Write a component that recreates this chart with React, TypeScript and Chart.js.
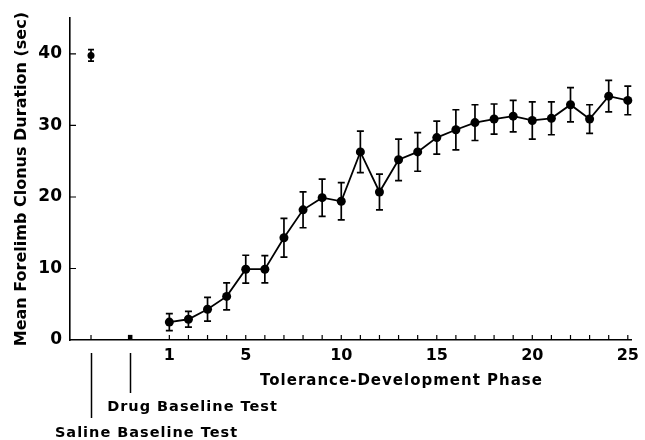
import React, { useEffect, useRef } from "react";
import { Chart, registerables } from "chart.js";

Chart.register(...registerables);

// Tolerance-development phase sessions
const phaseSessions = [1, 2, 3, 4, 5, 6, 7, 8, 9, 10, 11, 12, 13, 14, 15, 16, 17, 18, 19, 20, 21, 22, 23, 24, 25];
const phaseMeans = [2.5, 2.9, 4.3, 6.1, 9.9, 9.9, 14.3, 18.2, 19.9, 19.4, 26.3, 20.7, 25.2, 26.3, 28.3, 29.4, 30.4, 30.9, 31.3, 30.7, 31.0, 32.9, 30.9, 34.1, 33.5];
const phaseErrors = [1.2, 1.1, 1.65, 1.9, 1.95, 1.9, 2.7, 2.5, 2.6, 2.6, 2.9, 2.5, 2.9, 2.7, 2.3, 2.8, 2.5, 2.1, 2.2, 2.6, 2.3, 2.4, 2.0, 2.2, 2.0];

// Baseline tests
const baselineNames = ["Saline Baseline Test", "Drug Baseline Test"];
const baselineX = [-3.1, -1.05];
const baselineMeans = [39.8, 0.4];
const baselineErrors = [0.8, 0.2];

// Axis ticks
const xTickLabels = [1, 5, 10, 15, 20, 25];
const yTickValues = [0, 10, 20, 30, 40];

const FONT = "'DejaVu Sans', sans-serif";

export default function App() {
  const ref = useRef<HTMLCanvasElement | null>(null);

  useEffect(() => {
    const canvas = ref.current;
    if (!canvas) return;

    const errorBarPlugin = {
      id: "errorBars",
      afterDatasetsDraw(chart: any) {
        const ctx = chart.ctx;
        const xs = chart.scales.x;
        const ys = chart.scales.y;
        ctx.save();
        ctx.strokeStyle = "#000";
        ctx.lineWidth = 1.7;
        const draw = (xv: number, m: number, e: number, cap: number) => {
          const px = xs.getPixelForValue(xv);
          const top = ys.getPixelForValue(m + e);
          const bot = ys.getPixelForValue(m - e);
          ctx.beginPath();
          ctx.moveTo(px, top);
          ctx.lineTo(px, bot);
          ctx.moveTo(px - cap, top);
          ctx.lineTo(px + cap, top);
          ctx.moveTo(px - cap, bot);
          ctx.lineTo(px + cap, bot);
          ctx.stroke();
        };
        phaseSessions.forEach((s, i) => draw(s, phaseMeans[i], phaseErrors[i], 3.5));
        baselineX.forEach((bx, i) => {
          if (baselineErrors[i] > 0.3) draw(bx, baselineMeans[i], baselineErrors[i], 3);
        });
        ctx.restore();
      },
    };

    const axisDecorPlugin = {
      id: "axisDecor",
      afterDraw(chart: any) {
        const ctx = chart.ctx;
        const xs = chart.scales.x;
        const ys = chart.scales.y;
        const area = chart.chartArea;
        ctx.save();
        ctx.strokeStyle = "#000";
        ctx.lineWidth = 1.2;
        ctx.beginPath();
        // inward y tick marks
        yTickValues.forEach((v) => {
          if (v === 0) return;
          const py = ys.getPixelForValue(v);
          ctx.moveTo(area.left, py);
          ctx.lineTo(area.left + 6, py);
        });
        // inward x tick marks
        phaseSessions.forEach((s) => {
          const px = xs.getPixelForValue(s);
          ctx.moveTo(px, area.bottom);
          ctx.lineTo(px, area.bottom - 5);
        });
        baselineX.forEach((bx) => {
          const px = xs.getPixelForValue(bx);
          ctx.moveTo(px, area.bottom);
          ctx.lineTo(px, area.bottom - 5);
        });
        ctx.stroke();

        // baseline leader lines
        const lineEnds = [418, 393];
        ctx.lineWidth = 1.5;
        ctx.beginPath();
        baselineX.forEach((bx, i) => {
          const px = Math.round(xs.getPixelForValue(bx)) + 0.5;
          ctx.moveTo(px, area.bottom + 13);
          ctx.lineTo(px, lineEnds[i]);
        });
        ctx.stroke();

        // labels
        ctx.fillStyle = "#000";
        ctx.textBaseline = "middle";
        ctx.textAlign = "center";
        (ctx as any).letterSpacing = "1px";
        ctx.font = `bold 15px ${FONT}`;
        ctx.fillText("Tolerance-Development Phase", 401.5, 381);
        ctx.font = `bold 14.5px ${FONT}`;
        ctx.fillText(baselineNames[1], 192.5, 407);
        ctx.fillText(baselineNames[0], 146.5, 433);
        (ctx as any).letterSpacing = "0px";
        ctx.restore();
      },
    };

    const chart = new Chart(canvas, {
      type: "scatter",
      data: {
        datasets: [
          {
            label: "Tolerance-Development Phase",
            data: phaseSessions.map((s, i) => ({ x: s, y: phaseMeans[i] })),
            showLine: true,
            borderColor: "#000",
            borderWidth: 1.8,
            backgroundColor: "#000",
            pointBackgroundColor: "#000",
            pointBorderColor: "#000",
            pointRadius: 4.5,
            pointBorderWidth: 0,
            clip: false as any,
          },
          {
            label: baselineNames[0],
            data: [{ x: baselineX[0], y: baselineMeans[0] }],
            showLine: false,
            backgroundColor: "#000",
            pointBackgroundColor: "#000",
            pointBorderColor: "#000",
            pointRadius: 3.5,
            pointBorderWidth: 0,
            clip: false as any,
          },
          {
            label: baselineNames[1],
            data: [{ x: baselineX[1], y: baselineMeans[1] }],
            showLine: false,
            backgroundColor: "#000",
            pointBackgroundColor: "#000",
            pointBorderColor: "#000",
            pointStyle: "rect",
            pointRadius: 3.2,
            pointBorderWidth: 0,
            clip: false as any,
          },
        ],
      },
      options: {
        animation: false,
        responsive: false,
        maintainAspectRatio: false,
        layout: { padding: { top: 13, right: 9, left: 0, bottom: 0 } },
        plugins: {
          legend: { display: false },
          tooltip: { enabled: false },
          title: { display: false },
        },
        scales: {
          x: {
            type: "linear",
            min: -4.2,
            max: 25.2,
            grid: { display: false, drawTicks: false },
            border: { display: true, color: "#000", width: 1.6 },
            afterBuildTicks: (scale: any) => {
              scale.ticks = xTickLabels.map((v) => ({ value: v }));
            },
            afterFit: (scale: any) => {
              scale.height = 100;
            },
            ticks: {
              autoSkip: false,
              maxRotation: 0,
              padding: 6,
              color: "#000",
              font: { family: FONT, size: 16, weight: "bold" },
              callback: (v: any) => String(v),
            },
          },
          y: {
            type: "linear",
            min: 0,
            max: 45,
            grid: { display: false, drawTicks: false },
            border: { display: true, color: "#000", width: 1.6 },
            afterBuildTicks: (scale: any) => {
              scale.ticks = yTickValues.map((v) => ({ value: v }));
            },
            afterFit: (scale: any) => {
              scale.width = 70;
            },
            ticks: {
              padding: 8,
              color: "#000",
              font: { family: FONT, size: 17, weight: "bold" },
              callback: (v: any) => String(v),
            },
            title: {
              display: true,
              text: "Mean Forelimb Clonus Duration (sec)",
              color: "#000",
              font: { family: FONT, size: 16, weight: "bold" },
              padding: { top: 12, bottom: 0 },
            },
          },
        },
      },
      plugins: [errorBarPlugin, axisDecorPlugin],
    });

    return () => chart.destroy();
  }, []);

  return (
    <div style={{ position: "fixed", left: 0, top: 0, width: 645, height: 440, background: "#fff" }}>
      <canvas ref={ref} width={645} height={440} />
    </div>
  );
}
